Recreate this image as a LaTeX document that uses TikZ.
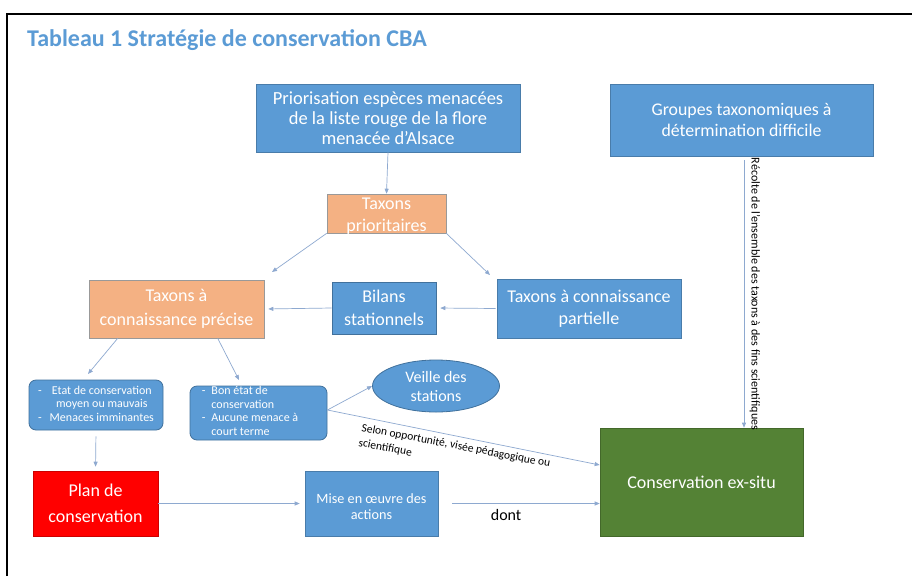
\documentclass[tikz,border=0pt]{standalone}
\usepackage{fontspec}
\setmainfont{Carlito}
\usetikzlibrary{arrows.meta,shapes.geometric,calc}
\definecolor{cblue}{HTML}{5B9BD5}
\definecolor{cbord}{HTML}{41719C}
\definecolor{corange}{HTML}{F4B183}
\definecolor{cgreen}{HTML}{548235}
\definecolor{cred}{HTML}{FF0000}
\definecolor{carrow}{HTML}{8EA9D0}
\definecolor{ctitle}{HTML}{5B9BD5}
\tikzset{
  bluebox/.style={draw=cblue!80!black, line width=0.6pt, fill=cblue, text=white, align=center, inner sep=0pt, font=\fontsize{18}{21}\selectfont},
  orangebox/.style={draw=gray!80, line width=0.6pt, fill=corange, text=white, align=center, inner sep=0pt, font=\fontsize{18}{22.5}\selectfont},
  roundbox/.style={draw=cbord, line width=0.8pt, fill=cblue, text=white, rounded corners=7pt, inner sep=0pt, font=\fontsize{12}{13.5}\selectfont},
  conn/.style={draw=carrow, line width=0.7pt, -{Triangle[length=5pt,width=4pt]}},
  lbl/.style={font=\fontsize{11.5}{15}\selectfont, text=black, inner sep=0pt}
}
\begin{document}
\begin{tikzpicture}[x=1pt,y=-1pt]
\useasboundingbox (0,0) rectangle (912,576);
\fill[white] (0,0) rectangle (912,576);
% frame
\draw[line width=1.8pt, black] (7,576) -- (7,14) -- (912,14);
% title
\node[anchor=west, text=ctitle, font=\fontsize{24}{27}\selectfont\bfseries, inner sep=0pt] (title) at (27,40) {Tableau 1 Stratégie de conservation CBA};
% boxes
\node[bluebox, minimum width=264pt, minimum height=68pt, font=\fontsize{18.5}{20}\selectfont] (prio) at (388,118) {Priorisation espèces menacées\\de la liste rouge de la flore\\menacée d’Alsace};
\node[bluebox, minimum width=263pt, minimum height=72pt, font=\fontsize{17.8}{21}\selectfont] (grp) at (741.5,120) {Groupes taxonomiques à\\détermination difficile};
\node[orangebox, minimum width=119pt, minimum height=39pt] (tprio) at (386.5,213.5) {};
\node[text=white, align=center, inner sep=0pt, font=\fontsize{18}{22}\selectfont] (tprioT) at ($(tprio.center)+(0,2.5)$) {Taxons\\prioritaires};
\node[orangebox, minimum width=175pt, minimum height=58pt, font=\fontsize{18}{24}\selectfont] (tprec) at (176.5,309) {Taxons à\\connaissance précise};
\node[bluebox, minimum width=104pt, minimum height=52pt, draw=cbord, font=\fontsize{18}{23}\selectfont] (bil) at (384,308) {Bilans\\stationnels};
\node[bluebox, minimum width=184pt, minimum height=59pt, font=\fontsize{18}{22}\selectfont] (tpart) at (589,308.5) {Taxons à connaissance\\partielle};
\node[roundbox, minimum width=134pt, minimum height=50pt] (etat) at (96,405) {\begin{tabular}{@{}l@{\hspace{8pt}}c@{}}-&Etat de conservation\\&moyen ou mauvais\\-&Menaces imminantes\end{tabular}};
\node[roundbox, minimum width=137pt, minimum height=54pt] (bon) at (258.5,413) {};
\node[anchor=west, text=white, inner sep=0pt, font=\fontsize{12}{13.5}\selectfont] (bonT) at ($(bon.west)+(12,-0.5)$) {\begin{tabular}{@{}l@{\hspace{6pt}}l@{}}-&Bon état de\\&conservation\\-&Aucune menace à\\&court terme\end{tabular}};
\node[ellipse, draw=cbord, line width=0.8pt, fill=cblue, text=white, align=center, inner sep=0pt, minimum width=127pt, minimum height=52pt, font=\fontsize{16}{19}\selectfont] (veille) at (436,386) {Veille des\\stations};
\node[draw=cgreen!80!black, line width=0.6pt, fill=cgreen, text=white, minimum width=203pt, minimum height=108pt, inner sep=0pt, font=\fontsize{18}{21}\selectfont] (green) at (701.5,482) {Conservation ex-situ};
\node[draw=cred!80!black, line width=0.6pt, fill=cred, text=white, align=center, minimum width=125pt, minimum height=65pt, inner sep=0pt, font=\fontsize{18}{26}\selectfont] (plan) at (95.5,503.5) {Plan de\\conservation};
\node[bluebox, minimum width=133pt, minimum height=65pt] (mise) at (371.5,503.5) {};
\node[text=white, align=center, inner sep=0pt, font=\fontsize{14.2}{16.5}\selectfont] (miseT) at ($(mise.center)+(0,3)$) {Mise en œuvre des\\actions};
% free ends
\coordinate (e1) at (272,272);
\coordinate (e2) at (490,275);
\coordinate (e3) at (88,374);
\coordinate (e4) at (239,380);
% connectors
\draw[conn] (prio.south) -- (tprio.north);
\draw[conn] (tprio.south west) -- (e1);
\draw[conn] (tprio.south east) -- (e2);
\draw[conn, shorten <=1pt, shorten >=4pt] (tpart.west) -- (bil.east);
\draw[conn, shorten >=4pt] (bil.west) -- (tprec.east);
\draw[conn] ($(tprec.south west)+(29,0)$) -- (e3);
\draw[conn] ($(tprec.south west)+(129,0)$) -- (e4);
\draw[conn, shorten <=6pt, shorten >=4pt] (etat.south) -- (plan.north);
\draw[conn, shorten >=5pt] (plan.east) -- (mise.west);
\draw[conn, shorten <=14pt] (mise.east) -- (green.west |- mise.east) node[pos=0.42, below=6pt, font=\fontsize{16}{18}\selectfont, text=black, inner sep=0pt] (dont) {dont};
\draw[conn] ($(bon.east)+(0,-3)$) -- (veille.west);
\draw[conn] ($(bon.east)+(0,-3)$) -- ($(green.west)+(0,-17)$);
\draw[conn, shorten <=4pt] (grp.south -| 744,0) -- (green.north -| 744,0);
% labels
\node[lbl, rotate=-10.8, anchor=base west] (sel1) at (361,431) {Selon opportunité, visée pédagogique ou};
\node[lbl, rotate=-10.8, anchor=base west] (sel2) at (358,446) {scientifique};
\node[lbl, rotate=-90, anchor=center, font=\fontsize{12}{13}\selectfont] (rec) at (755,294) {Récolte de l’ensemble des taxons à des fins scientifiques};
\end{tikzpicture}
\end{document}
